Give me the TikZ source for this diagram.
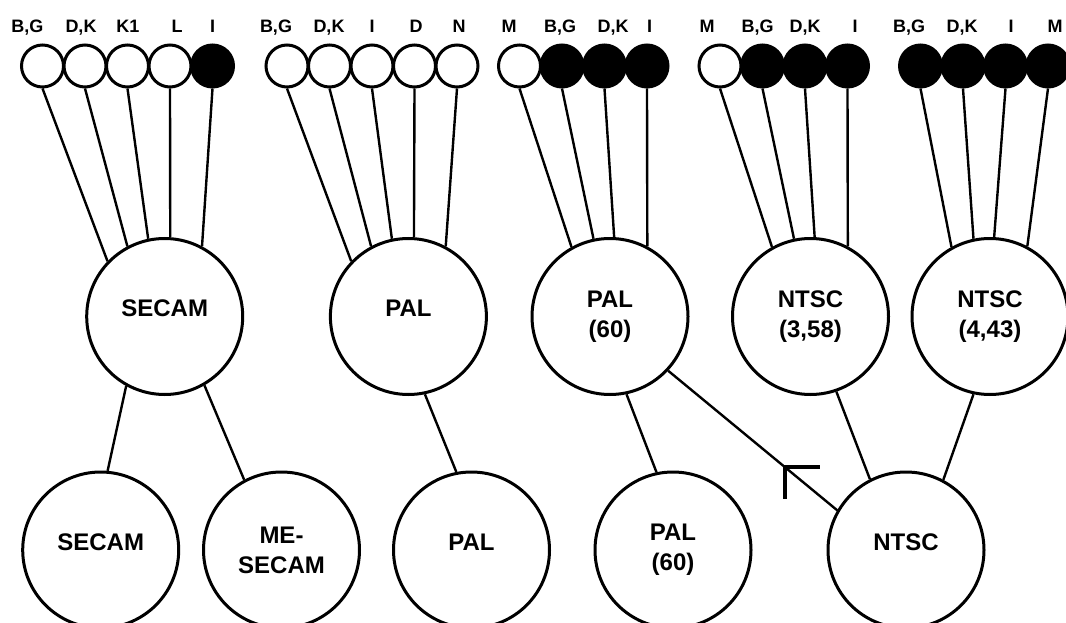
\documentclass[tikz,border=0pt]{standalone}
\usepackage{fontspec}
\setmainfont{Liberation Sans}
\begin{document}
\begin{tikzpicture}[x=1pt,y=-1pt,
  sm/.style={circle,draw,line width=3pt,minimum size=42pt,inner sep=0pt},
  smf/.style={sm,fill=black},
  bigbase/.style={circle,draw,line width=3pt,minimum size=156pt,inner sep=0pt,font=\fontsize{24}{30}\selectfont\bfseries},
  bigone/.style={bigbase,text height=12pt,text depth=12pt},
  bigtwo/.style={bigbase,align=center},
  lab/.style={font=\fontsize{18}{20}\selectfont\bfseries,inner sep=0pt,text height=13pt,text depth=0pt},
  conn/.style={line width=2.4pt},
  marker/.style={line width=3.5pt,line cap=butt,line join=miter}]
\clip (0,0) rectangle (1066,623);
\fill[white] (0,0) rectangle (1066,623);

% labels
\node[lab] (t1a) at (27.5,26) {B,G};
\node[lab] (t1b) at (81,26) {D,K};
\node[lab] (t1c) at (128,26) {K1};
\node[lab] (t1d) at (177,26) {L};
\node[lab] (t1e) at (212.7,26) {I};
\node[lab] (t2a) at (276,26) {B,G};
\node[lab] (t2b) at (329,26) {D,K};
\node[lab] (t2c) at (372,26) {I};
\node[lab] (t2d) at (416,26) {D};
\node[lab] (t2e) at (459,26) {N};
\node[lab] (t3a) at (509,26) {M};
\node[lab] (t3b) at (560,26) {B,G};
\node[lab] (t3c) at (613,26) {D,K};
\node[lab] (t3d) at (649.5,26) {I};
\node[lab] (t4a) at (707,26) {M};
\node[lab] (t4b) at (757.6,26) {B,G};
\node[lab] (t4c) at (805,26) {D,K};
\node[lab] (t4d) at (855,26) {I};
\node[lab] (t5a) at (909,26) {B,G};
\node[lab] (t5b) at (962,26) {D,K};
\node[lab] (t5c) at (1011,26) {I};
\node[lab] (t5d) at (1055,26) {M};

% small circles
\node[sm]  (g1a) at (42.5,66) {};
\node[sm]  (g1b) at (85,66) {};
\node[sm]  (g1c) at (127.5,66) {};
\node[sm]  (g1d) at (170,66) {};
\node[smf] (g1e) at (212.5,66) {};
\node[sm]  (g2a) at (287,66) {};
\node[sm]  (g2b) at (329.5,66) {};
\node[sm]  (g2c) at (372,66) {};
\node[sm]  (g2d) at (414.5,66) {};
\node[sm]  (g2e) at (457,66) {};
\node[sm]  (g3a) at (519.5,66) {};
\node[smf] (g3b) at (562,66) {};
\node[smf] (g3c) at (604.5,66) {};
\node[smf] (g3d) at (647,66) {};
\node[sm]  (g4a) at (720,66) {};
\node[smf] (g4b) at (762.5,66) {};
\node[smf] (g4c) at (805,66) {};
\node[smf] (g4d) at (847.5,66) {};
\node[smf] (g5a) at (920.5,66) {};
\node[smf] (g5b) at (963,66) {};
\node[smf] (g5c) at (1005.5,66) {};
\node[smf] (g5d) at (1048,66) {};

% big circles, top row
\node[bigone] (secam) at (164.7,316.5) {SECAM};
\node[bigone] (pal) at (408.4,316.5) {PAL};
\node[bigtwo] (pal60) at (610,316.5) {PAL\\(60)};
\node[bigtwo] (ntsca) at (810.5,316.5) {NTSC\\(3,58)};
\node[bigtwo] (ntscb) at (990,316.5) {NTSC\\(4,43)};

% big circles, bottom row
\node[bigone] (secamb) at (100.7,550) {SECAM};
\node[bigtwo] (mesecam) at (281.5,550) {ME-\\SECAM};
\node[bigone] (palb) at (471.5,550) {PAL};
\node[bigtwo] (pal60b) at (673,550) {PAL\\(60)};
\node[bigone] (ntsc) at (906,550) {NTSC};

% connectors: small circles to systems
\draw[conn] (g1a.south) -- (secam.136);
\draw[conn] (g1b.south) -- (secam.118);
\draw[conn] (g1c.south) -- (secam.102);
\draw[conn] (g1d.south) -- (secam.86);
\draw[conn] (g1e.south) -- (secam.62);
\draw[conn] (g2a.south) -- (pal.136);
\draw[conn] (g2b.south) -- (pal.118);
\draw[conn] (g2c.south) -- (pal.102);
\draw[conn] (g2d.south) -- (pal.86);
\draw[conn] (g2e.south) -- (pal.62);
\draw[conn] (g3a.south) -- (pal60.119);
\draw[conn] (g3b.south) -- (pal60.102);
\draw[conn] (g3c.south) -- (pal60.87);
\draw[conn] (g3d.south) -- (pal60.62);
\draw[conn] (g4a.south) -- (ntsca.119);
\draw[conn] (g4b.south) -- (ntsca.102);
\draw[conn] (g4c.south) -- (ntsca.87);
\draw[conn] (g4d.south) -- (ntsca.62);
\draw[conn] (g5a.south) -- (ntscb.119);
\draw[conn] (g5b.south) -- (ntscb.102);
\draw[conn] (g5c.south) -- (ntscb.87);
\draw[conn] (g5d.south) -- (ntscb.62);

% connectors between systems
\draw[conn] (secam.241) -- (secamb.85.5);
\draw[conn] (secam.300) -- (mesecam.118.5);
\draw[conn] (pal.282.6) -- (palb.101);
\draw[conn] (pal60.282) -- (pal60b.102);
\draw[conn] (pal60.317.7) -- coordinate[pos=0.69] (arr) (ntsc.150.2);
\draw[conn] (ntsca.289.7) -- (ntsc.117.8);
\draw[conn] (ntscb.258) -- (ntsc.62);

% direction marker
\draw[marker] ([xshift=35pt]arr) -- (arr) -- ([yshift=-32pt]arr);
\end{tikzpicture}
\end{document}
